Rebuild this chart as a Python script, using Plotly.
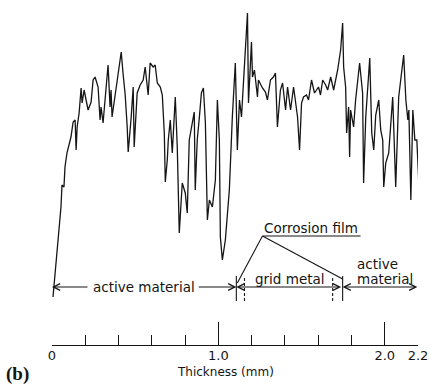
import plotly.graph_objects as go

# Line-scan profile across the electrode cross-section
thickness_mm = [
    0.006, 0.018, 0.036, 0.054, 0.060, 0.072, 0.078, 0.090, 0.114, 0.127,
    0.139, 0.145, 0.151, 0.163, 0.175, 0.181, 0.193, 0.205, 0.217, 0.235,
    0.247, 0.259, 0.277, 0.289, 0.295, 0.307, 0.319, 0.337, 0.349, 0.355,
    0.361, 0.380, 0.398, 0.416, 0.428, 0.440, 0.452, 0.458, 0.476, 0.488,
    0.494, 0.512, 0.530, 0.548, 0.560, 0.578, 0.590, 0.608, 0.620, 0.633,
    0.651, 0.663, 0.675, 0.681, 0.693, 0.699, 0.711, 0.723, 0.741, 0.753,
    0.765, 0.783, 0.801, 0.813, 0.825, 0.837, 0.855, 0.861, 0.873, 0.886,
    0.898, 0.910, 0.922, 0.934, 0.946, 0.964, 0.982, 0.994, 1.006, 1.012,
    1.024, 1.042, 1.066, 1.084, 1.102, 1.114, 1.127, 1.139, 1.157, 1.175,
    1.181, 1.199, 1.205, 1.217, 1.235, 1.241, 1.265, 1.283, 1.295, 1.313,
    1.331, 1.343, 1.355, 1.373, 1.386, 1.404, 1.416, 1.434, 1.452, 1.476,
    1.488, 1.500, 1.512, 1.530, 1.542, 1.560, 1.578, 1.602, 1.614, 1.627,
    1.645, 1.657, 1.675, 1.693, 1.717, 1.735, 1.747, 1.753, 1.765, 1.771,
    1.783, 1.789, 1.795, 1.813, 1.825, 1.837, 1.849, 1.867, 1.873, 1.886,
    1.898, 1.910, 1.922, 1.934, 1.946, 1.964, 1.976, 1.988, 1.994, 2.006,
    2.024, 2.036, 2.048, 2.066, 2.084, 2.096, 2.114, 2.127, 2.139, 2.145,
    2.157, 2.169, 2.181, 2.193, 2.205, 2.205,
]
intensity = [
    3, 27, 60, 93, 115, 113, 133, 147, 163, 178,
    180, 150, 173, 187, 212, 197, 210, 200, 190, 198,
    220, 223, 213, 180, 193, 177, 203, 235, 193, 210,
    183, 207, 230, 248, 225, 205, 173, 148, 183, 213,
    153, 207, 215, 220, 233, 205, 237, 233, 235, 217,
    213, 205, 167, 118, 140, 160, 180, 147, 203, 153,
    67, 117, 107, 87, 160, 173, 188, 110, 160, 183,
    207, 212, 177, 80, 100, 93, 120, 200, 160, 63,
    40, 60, 110, 183, 237, 150, 200, 183, 240, 287,
    197, 258, 223, 230, 203, 220, 212, 208, 200, 220,
    223, 227, 173, 210, 217, 190, 213, 190, 213, 183,
    150, 197, 203, 205, 200, 220, 207, 213, 205, 220,
    215, 210, 223, 210, 230, 250, 277, 233, 213, 167,
    193, 143, 190, 173, 200, 217, 237, 207, 117, 183,
    210, 242, 167, 150, 185, 200, 170, 160, 113, 137,
    147, 180, 203, 113, 203, 220, 245, 200, 180, 190,
    100, 190, 160, 160, 117, -7,
]

major_ticks = [0, 1.0, 2.0, 2.2]
major_labels = ["0", "1.0", "2.0", "2.2"]
minor_ticks = [0.2, 0.4, 0.6, 0.8, 1.2, 1.4, 1.6, 1.8]

# region boundaries (mm)
b_active_end = 1.108
b_film1 = 1.157
b_film2 = 1.687
b_grid_end = 1.747
b_end = 2.205
level = 13  # annotation row, in intensity units

INK = "#151515"
FONT = "DejaVu Sans, Verdana, sans-serif"

fig = go.Figure(
    go.Scatter(
        x=thickness_mm, y=intensity, mode="lines",
        line=dict(color=INK, width=1.3), cliponaxis=False,
        hoverinfo="skip", showlegend=False,
    )
)

def arrow(x_head, x_tail, both=False):
    fig.add_annotation(
        x=x_head, y=level, ax=x_tail, ay=level, xref="x", yref="y",
        axref="x", ayref="y", text="", showarrow=True,
        arrowhead=5, startarrowhead=5, arrowsize=1.2, startarrowsize=1.2,
        arrowwidth=1.1, arrowcolor=INK,
        arrowside="end+start" if both else "end",
    )

arrow(0, 0.222)
arrow(b_active_end, 0.873)
arrow(b_active_end, b_grid_end, both=True)
arrow(b_grid_end, b_end, both=True)

def label(x, y, text, size=13.5, anchor="center"):
    fig.add_annotation(x=x, y=y, xref="x", yref="y", text=text, showarrow=False,
                       font=dict(family=FONT, size=size, color=INK),
                       xanchor=anchor, yanchor="middle")

label(0.554, level, "active material")
label(1.428, 21, "grid metal")
label(1.819, 36, "active", anchor="left")
label(1.819, 21, "material", anchor="left")
label(1.554, 72, "Corrosion film")

shapes = []
for xv, dash in [(b_active_end, "solid"), (b_grid_end, "solid"),
                 (b_film1, "3px,2px"), (b_film2, "3px,2px")]:
    shapes.append(dict(type="line", x0=xv, x1=xv, y0=-1, y1=24, xref="x", yref="y",
                       line=dict(color=INK, width=1.1, dash=dash)))
shapes.append(dict(type="line", x0=1.265, x1=1.855, y0=64, y1=64, xref="x", yref="y",
                   line=dict(color=INK, width=1.1)))
shapes.append(dict(type="line", x0=1.265, x1=1.114, y0=64, y1=17, xref="x", yref="y",
                   line=dict(color=INK, width=1.1)))
shapes.append(dict(type="line", x0=1.265, x1=1.747, y0=64, y1=21, xref="x", yref="y",
                   line=dict(color=INK, width=1.1)))

fig.add_annotation(x=1.04, y=0, xref="x", yref="paper", yanchor="middle", yshift=-27,
                   text="Thickness (mm)", showarrow=False,
                   font=dict(family=FONT, size=12, color=INK))
fig.add_annotation(x=-0.13, y=0, xref="paper", yref="paper", xanchor="left",
                   yanchor="middle", yshift=-29, text="<b>(b)</b>", showarrow=False,
                   font=dict(family="Liberation Serif, Times New Roman, serif", size=19, color=INK))

fig.update_layout(
    width=431, height=384,
    margin=dict(l=52, r=13, t=0, b=39),
    paper_bgcolor="white", plot_bgcolor="white",
    shapes=shapes,
    xaxis=dict(
        range=[0, 2.2], showgrid=False, zeroline=False,
        showline=True, linecolor=INK, linewidth=1.2,
        tickmode="array", tickvals=major_ticks, ticktext=major_labels,
        ticks="inside", ticklen=23, tickwidth=1.2, tickcolor=INK,
        tickfont=dict(family=FONT, size=13, color=INK),
        ticklabelstandoff=-2,
        minor=dict(tickmode="array", tickvals=minor_ticks, ticks="inside",
                   ticklen=10, tickwidth=1.1, tickcolor=INK, showgrid=False),
    ),
    yaxis=dict(range=[-45, 300], visible=False),
)

# remove the browser's default body margin so the figure fills the window exactly
fig.write_html("out.html", config={"displayModeBar": False},
               post_script="document.body.style.margin='0px';")
